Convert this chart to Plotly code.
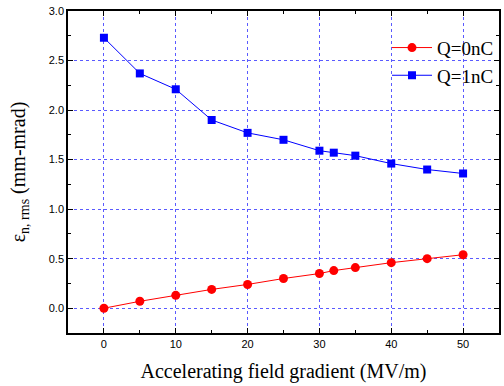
import plotly.graph_objects as go

x_vals = [0, 5, 10, 15, 20, 25, 30, 32, 35, 40, 45, 50]
q0_vals = [0.0, 0.07, 0.13, 0.19, 0.24, 0.30, 0.35, 0.38, 0.41, 0.46, 0.50, 0.54]
q1_vals = [2.73, 2.37, 2.21, 1.90, 1.77, 1.70, 1.59, 1.57, 1.54, 1.46, 1.40, 1.36]
series_names = ["Q=0nC", "Q=1nC"]

SERIF = "Liberation Serif"
SANS = "Liberation Sans"

fig = go.Figure()
fig.add_trace(go.Scatter(x=x_vals, y=q0_vals, mode="lines+markers", name=series_names[0],
                         line=dict(color="#ff0000", width=1),
                         marker=dict(symbol="circle", size=9, color="#ff0000")))
fig.add_trace(go.Scatter(x=x_vals, y=q1_vals, mode="lines+markers", name=series_names[1],
                         line=dict(color="#0000ff", width=1),
                         marker=dict(symbol="square", size=8, color="#0000ff")))

axis_common = dict(showline=True, linecolor="black", linewidth=1.5, mirror="ticks",
                   ticks="inside", ticklen=5, tickcolor="black", zeroline=False,
                   showgrid=True, gridcolor="#5a5aff", griddash="dot", gridwidth=1,
                   automargin=False,
                   tickfont=dict(family=SANS, size=11, color="black"))

fig.update_xaxes(range=[-5, 55], tickvals=[0, 10, 20, 30, 40, 50],
                 minor=dict(tickvals=[5, 15, 25, 35, 45], ticks="inside", ticklen=3, tickcolor="black", showgrid=False),
                 title=dict(text="Accelerating field gradient (MV/m)",
                            font=dict(family=SERIF, size=20, color="black"),
                            standoff=15),
                 **axis_common)
fig.update_yaxes(range=[-0.25, 3.0], tickvals=[0, 0.5, 1.0, 1.5, 2.0, 2.5, 3.0], tickformat=".1f",
                 minor=dict(tickvals=[-0.25, 0.25, 0.75, 1.25, 1.75, 2.25, 2.75], ticks="inside", ticklen=3, tickcolor="black", showgrid=False),
                 title=dict(text="ε<sub>n, rms</sub> (mm-mrad)",
                            font=dict(family=SERIF, size=20, color="black"),
                            standoff=18),
                 **axis_common)

fig.update_layout(width=504, height=386, margin=dict(l=68, r=5, t=11, b=53),
                  plot_bgcolor="white", paper_bgcolor="white",
                  legend=dict(x=1.0, y=0.945, xanchor="right", yanchor="top",
                              bgcolor="rgba(0,0,0,0)", borderwidth=0,
                              font=dict(family=SERIF, size=19, color="black"),
                              tracegroupgap=0, itemwidth=40))

fig.write_html("out.html", config={"displayModeBar": False},
               post_script="document.body.style.margin='0';document.body.style.overflow='hidden';")
